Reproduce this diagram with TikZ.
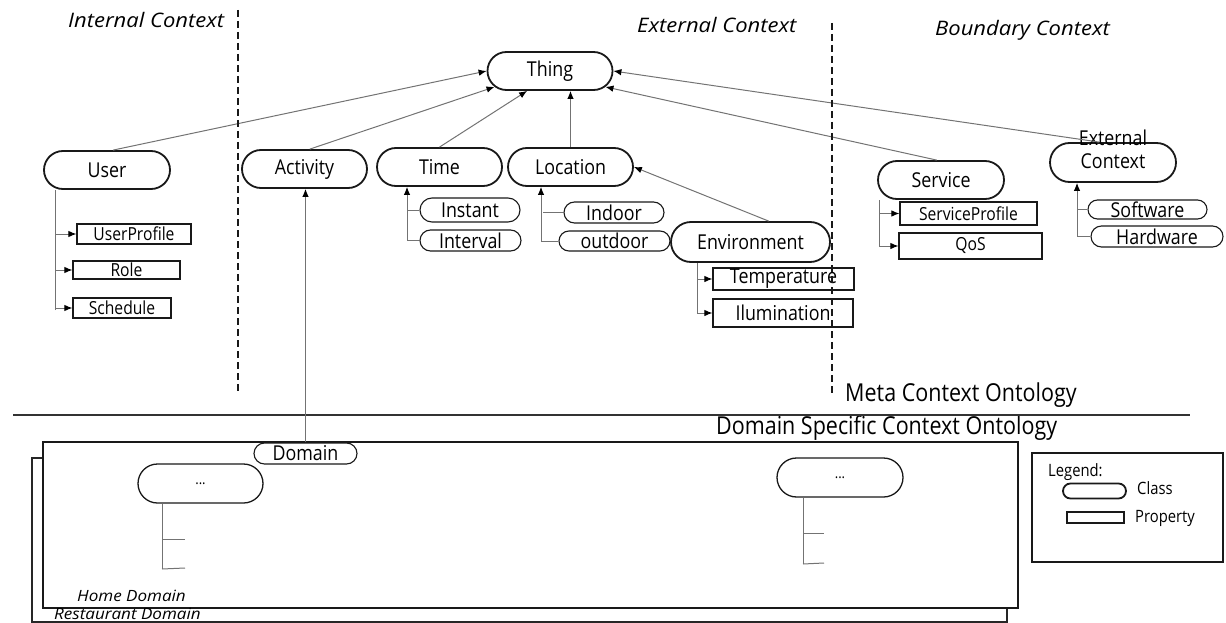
\documentclass[tikz,border=0pt]{standalone}
\usepackage{fontspec}
\setmainfont{Open Sans}[FakeStretch=0.87]
\newfontfamily\itfont{Open Sans}[FakeStretch=1.1]
\usetikzlibrary{shapes.misc,arrows.meta,calc}
\begin{document}
\begin{tikzpicture}[x=1pt,y=-1pt,
  big/.style={font=\fontsize{20.5}{24}\selectfont},
  cls/.style={rounded rectangle, draw=black!90, line width=1.8pt, fill=white, inner sep=0pt, big},
  scls/.style={rounded rectangle, draw=black!90, line width=1.1pt, fill=white, inner sep=0pt, big},
  prop/.style={rectangle, draw=black!90, line width=1.2pt, fill=white, inner sep=0pt, font=\fontsize{18}{22}\selectfont},
  bprop/.style={prop, big},
  ln/.style={draw=black!55, line width=1pt},
  arr/.style={ln, -{Latex[length=8pt,width=6.5pt,color=black]}},
  sepline/.style={draw=black!90, line width=2pt, dash pattern=on 7pt off 4pt},
  hdr/.style={font=\itfont\fontsize{20}{24}\selectfont\itshape, anchor=base west, inner sep=0pt},
  ttl/.style={font=\fontsize{24.7}{29}\selectfont, anchor=base west, inner sep=0pt},
  dom/.style={font=\itfont\fontsize{15.5}{19}\selectfont\itshape, anchor=base west, inner sep=0pt},
  lgd/.style={font=\fontsize{17}{20}\selectfont, anchor=base west, inner sep=0pt},
  sz/.style 2 args={minimum width=#1pt, minimum height=#2pt}
]
\useasboundingbox (0,0) rectangle (1226,623);

% headers
\node[hdr] (hint) at (68,28) {Internal Context};
\node[hdr] (hext) at (637,33) {External Context};
\node[hdr] (hbnd) at (935,36) {Boundary Context};
\node[ttl] (hmeta) at (845,401) {Meta Context Ontology};
\node[ttl] (hdsc) at (716,434) {Domain Specific Context Ontology};

% separator
\draw[draw=black!80, line width=2pt] (13,415) -- (1190,415);

% domain boxes
\node[rectangle, draw=black!85, line width=1.6pt, fill=white, sz={975}{164}] (rest) at (519.5,540) {};
\node[rectangle, draw=black!90, line width=1.6pt, fill=white, sz={975}{166}] (home) at (530.5,525) {};
\node[dom] (lhome) at (77,601) {Home Domain};
\node[dom] (lrest) at (54,619) {Restaurant Domain};

% main classes
\node[cls, sz={125}{38}] (thing) at (550,71) {Thing};
\node[cls, sz={126}{38}] (user) at (107,170) {User};
\node[cls, sz={125}{38}] (act) at (304.5,169) {Activity};
\node[cls, sz={125}{38}] (time) at (439.5,167) {Time};
\node[cls, sz={125}{38}] (loc) at (570.5,167) {Location};
\node[cls, sz={159}{40}] (env) at (750.5,242) {Environment};
\node[cls, sz={126}{38}] (serv) at (941,180) {Service};
\node[cls, sz={126}{39}] (ext) at (1113,162.5) {};
\node[big, align=center, inner sep=0pt, text height=15pt] (extl) at (1113,161) {External\\[-1pt]Context};

% sub classes
\node[scls, sz={100}{24}] (inst) at (470,210) {Instant};
\node[scls, sz={101}{21}] (intv) at (470.5,240.5) {Interval};
\node[scls, sz={100}{21}] (indoor) at (614,212.5) {Indoor};
\node[scls, sz={111}{20}] (outdoor) at (614.5,241) {outdoor};
\node[scls, sz={119}{19}] (soft) at (1147.5,209.5) {Software};
\node[scls, sz={132}{21}] (hard) at (1157,236.5) {Hardware};

% properties
\node[prop, sz={114}{20}] (upf) at (134,234) {UserProfile};
\node[prop, sz={107}{18}] (role) at (126.5,270) {Role};
\node[prop, sz={98}{20}] (sched) at (122,308) {Schedule};
\node[bprop, sz={141}{22}] (temp) at (783.5,279) {Temperature};
\node[bprop, sz={140}{28}] (ilum) at (783,313) {Ilumination};
\node[prop, sz={137}{23}] (sprof) at (968.5,213.5) {ServiceProfile};
\node[prop, sz={143}{26}] (qos) at (970.5,246) {QoS};

% domain classes
\node[scls, sz={103}{21}] (domain) at (305.5,453.5) {Domain};
\node[cls, line width=1.3pt, sz={125}{39}, font=\fontsize{15}{18}\selectfont] (dots1) at (200.5,483.5) {...};
\node[cls, line width=1.3pt, sz={126}{39}, font=\fontsize{15}{18}\selectfont] (dots2) at (840,477.5) {...};

% arrows to Thing
\draw[arr] (user.73) -- (thing.west);
\draw[arr] (act.75) -- (thing.196);
\draw[arr] (time.north) -- (thing.221);
\draw[arr] (loc.north) -- (loc.north |- thing.south);
\draw[arr] (serv.102) -- (thing.344);
\draw[arr] (ext.124) -- (thing.east);
\draw[arr] (env.49) -- (loc.east);
\draw[arr] (domain.north) -- (domain.north |- act.south);

% user tree
\coordinate (ub) at (55,310);
\draw[ln] (ub) -- (ub |- user.south);
\draw[arr] (ub |- upf.west) -- (upf.west);
\draw[arr] (ub |- role.west) -- (role.west);
\draw[arr] (ub |- sched.west) -- (sched.west);

% time tree
\coordinate (tb) at (407,240.5);
\draw[arr] (tb) -- (tb |- time.south);
\draw[ln] (tb |- inst.west) -- (inst.west);
\draw[ln] (tb |- intv.west) -- (intv.west);

% location tree
\coordinate (lb) at (541,242);
\draw[arr] (lb) -- (lb |- loc.south);
\draw[ln] ($(lb |- indoor.west)+(2,0)$) -- (indoor.west);
\draw[ln] (lb |- outdoor.west) -- (outdoor.west);

% environment tree
\coordinate (eb) at (697,313);
\draw[ln] (eb) -- (eb |- env.south);
\draw[arr] (eb |- temp.west) -- (temp.west);
\draw[arr] (eb |- ilum.west) -- (ilum.west);

% service tree
\coordinate (sb) at (879,246);
\draw[ln] (sb) -- (sb |- serv.south);
\draw[arr] (sb |- sprof.west) -- (sprof.west);
\draw[arr] (sb |- qos.west) -- (qos.west);

% external context tree
\coordinate (xb) at (1077,236.5);
\draw[arr] (xb) -- (xb |- ext.south);
\draw[ln] (xb |- soft.west) -- (soft.west);
\draw[ln] (xb |- hard.west) -- (hard.west);

% domain trees
\coordinate (d1b) at (162,569);
\coordinate (d1a) at (185,539);
\coordinate (d1c) at (185,568);
\draw[ln] (d1b) -- (d1b |- dots1.south);
\draw[ln] (d1a -| d1b) -- (d1a);
\draw[ln] (d1b) -- (d1c);
\coordinate (d2b) at (803,564);
\coordinate (d2a) at (824,533);
\coordinate (d2c) at (824,563);
\draw[ln] (d2b) -- (d2b |- dots2.south);
\draw[ln] (d2a -| d2b) -- (d2a);
\draw[ln] (d2b) -- (d2c);

% dashed separators
\coordinate (s1t) at (238,10);
\coordinate (s1b) at (238,393);
\coordinate (s2t) at (832,23);
\coordinate (s2b) at (832,393);
\draw[sepline] (s1t) -- (s1b);
\draw[sepline] (s2t) -- (s2b);

% legend
\node[rectangle, draw=black!90, line width=1.5pt, sz={191}{109}] (legend) at (1127.5,507.5) {};
\node[lgd] (lgt) at (1048,476) {Legend:};
\node[cls, sz={63}{15}] (lcls) at (1094.5,491) {};
\node[lgd] (lclt) at (1137,494) {Class};
\node[prop, line width=1.1pt, sz={57}{11}] (lprop) at (1095.5,517.5) {};
\node[lgd] (lprt) at (1135,522) {Property};
\end{tikzpicture}
\end{document}
